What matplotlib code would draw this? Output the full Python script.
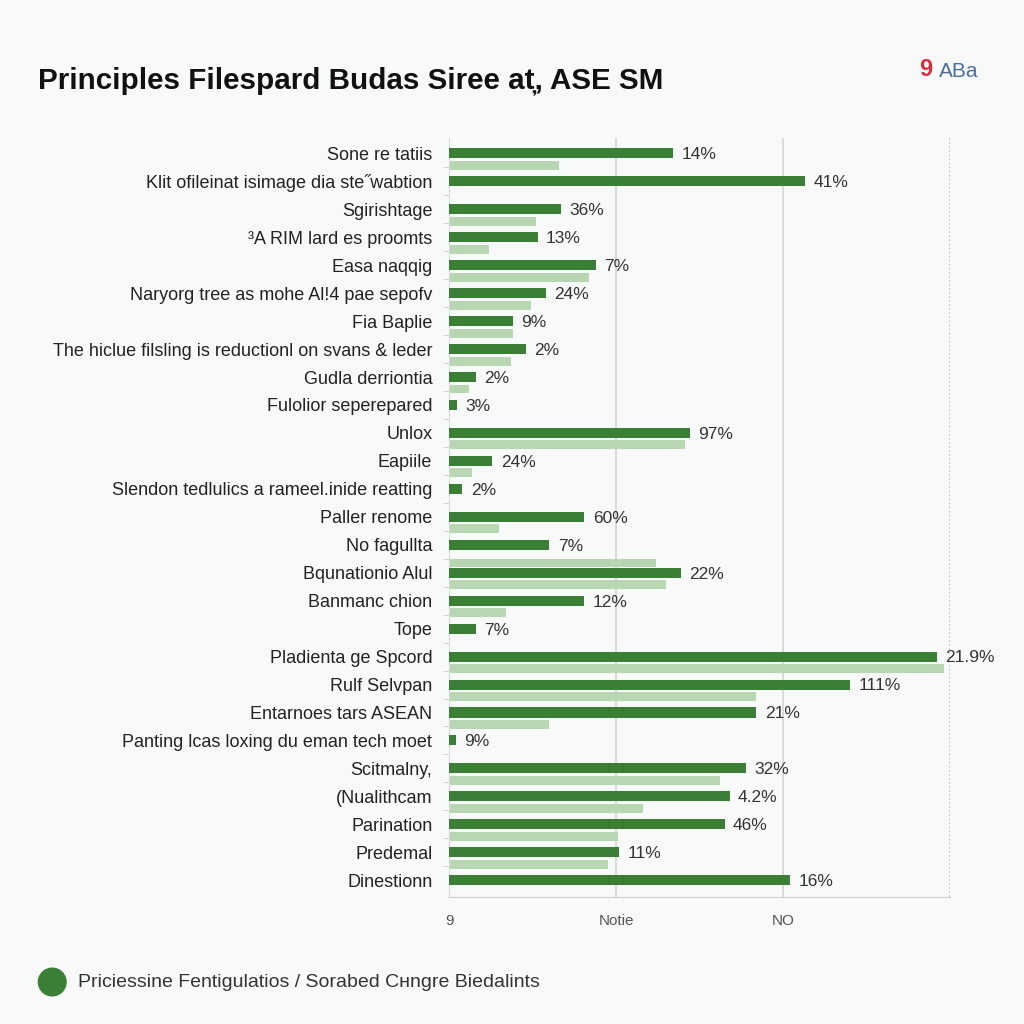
import matplotlib
matplotlib.use("Agg")
import matplotlib.pyplot as plt
from matplotlib.patches import Circle

# Dados (escala: 0..3 = largura do eixo)
categorias = [
    "Sone re tatiis", "Klit ofileinat isimage dia ste\u02ddwabtion", "Sgirishtage",
    "\u00b3A RIM lard es proomts", "Easa naqqig", "Naryorg tree as mohe Al!4 pae sepofv",
    "Fia Baplie", "The hiclue filsling is reductionl on svans & leder",
    "Gudla derriontia", "Fulolior seperepared", "Unlox", "Eapiile",
    "Slendon tedlulics a rameel.inide reatting", "Paller renome", "No fagullta",
    "Bqunationio Alul", "Banmanc chion", "Tope", "Pladienta ge Spcord",
    "Rulf Selvpan", "Entarnoes tars ASEAN", "Panting lcas loxing du eman tech moet",
    "Scitmalny,", "(Nualithcam", "Parination", "Predemal", "Dinestionn",
]
serie_escura = [1.34, 2.13, 0.67, 0.53, 0.88, 0.58, 0.38, 0.46, 0.16, 0.05,
                1.44, 0.26, 0.08, 0.81, 0.60, 1.39, 0.81, 0.16, 2.92,
                2.40, 1.84, 0.04, 1.78, 1.68, 1.65, 1.02, 2.04]
serie_clara = [0.66, 0, 0.52, 0.24, 0.84, 0.49, 0.38, 0.37, 0.12, 0,
               1.41, 0.14, 0, 0.30, 0, 1.30, 0.34, 0, 2.96,
               1.84, 0.60, 0, 1.62, 1.16, 1.01, 0.95, 0]
serie_clara_extra = [0] * 15 + [1.24] + [0] * 11
rotulos = ["14%", "41%", "36%", "13%", "7%", "24%", "9%", "2%", "2%", "3%",
           "97%", "24%", "2%", "60%", "7%", "22%", "12%", "7%", "21.9%",
           "111%", "21%", "9%", "32%", "4.2%", "46%", "11%", "16%"]
ticks_x = [0, 1, 2]
ticks_x_rotulos = ["9", "Notie", "NO"]

VERDE = "#3b7f36"
VERDE_CLARO = "#b9d6b2"
FUNDO = "#f8faf9"

plt.rcParams["font.family"] = ["Liberation Sans", "DejaVu Sans"]

fig = plt.figure(figsize=(10.24, 10.24), dpi=100, facecolor=FUNDO)
ax = fig.add_axes([0.4385, 0.124, 0.4895, 0.741])
ax.set_facecolor(FUNDO)

n = len(categorias)
ys = list(range(n))
ax.barh(ys, serie_escura, height=0.36, color=VERDE, zorder=3)
ax.barh([y + 0.43 for y in ys], serie_clara, height=0.32, color=VERDE_CLARO, zorder=2)
ax.barh([y - 0.34 for y in ys], serie_clara_extra, height=0.3, color=VERDE_CLARO, zorder=2)

for y, v, r in zip(ys, serie_escura, rotulos):
    ax.text(v + 0.05, y + 0.05, r, va="center", ha="left", fontsize=12.5, color="#333333", zorder=4)

ax.set_xlim(0, 3)
ax.set_ylim(n - 0.4, -0.54)

ax.set_yticks(ys)
ax.set_yticklabels(categorias, fontsize=13, color="#222222")
ax.tick_params(axis="y", length=0, pad=12)
ax.set_yticks([y + 0.5 for y in ys[:-1]], minor=True)
ax.tick_params(axis="y", which="minor", length=4, color="#cccccc")

ax.set_xticks(ticks_x)
ax.set_xticklabels(ticks_x_rotulos, fontsize=11, color="#555555")
ax.tick_params(axis="x", length=0, pad=12)

for x in [1, 2]:
    ax.axvline(x, color="#d4d4d4", lw=1.2, zorder=1)
ax.axvline(3, color="#aaaaaa", lw=1.1, ls=":", zorder=1)

for lado in ["top", "right"]:
    ax.spines[lado].set_visible(False)
ax.spines["left"].set_color("#d8d8d8")
ax.spines["bottom"].set_color("#d0d0d0")

# Título e logo
fig.text(0.037, 0.921, "Principles Filespard Budas Siree at\u0326, ASE SM",
         fontsize=21.3, fontweight="bold", color="#111111", va="center")
fig.text(0.898, 0.932, "9", fontsize=17, fontweight="bold", color="#d8303a", va="center")
fig.text(0.917, 0.930, "ABa", fontsize=15, color="#4b6ea0", va="center")

# Legenda
fig.patches.append(Circle((0.051, 0.041), 0.0135, transform=fig.transFigure,
                          color=VERDE, zorder=5))
fig.text(0.076, 0.041, "Priciessine Fentigulatios / Sorabed C\u043dngre Biedalints",
         fontsize=14, color="#333333", va="center")

fig.savefig("out.png", dpi=100, facecolor=FUNDO)
